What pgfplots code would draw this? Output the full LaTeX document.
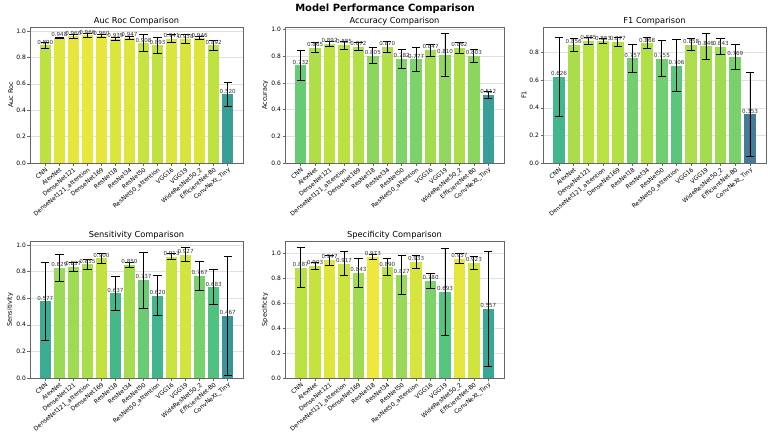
\documentclass[border=0pt]{standalone}
\usepackage{fontspec}
\setmainfont{DejaVu Sans}
\usepackage{pgfplots}
\pgfplotsset{compat=1.18}
\definecolor{V0}{HTML}{440154}
\definecolor{V1}{HTML}{482878}
\definecolor{V2}{HTML}{3E4989}
\definecolor{V3}{HTML}{31688E}
\definecolor{V4}{HTML}{26828E}
\definecolor{V5}{HTML}{1F9E89}
\definecolor{V6}{HTML}{35B779}
\definecolor{V7}{HTML}{6ECE58}
\definecolor{V8}{HTML}{B5DE2B}
\definecolor{V9}{HTML}{FDE725}
\definecolor{V10}{HTML}{FDE725}
\newcounter{bn}
\newcommand{\vbar}[3]{%
  \stepcounter{bn}%
  \pgfmathtruncatemacro\vk{floor(9*#2)}%
  \pgfmathtruncatemacro\vf{round(100*(9*#2-\vk))}%
  \pgfmathtruncatemacro\vkp{\vk+1}%
  \xglobal\colorlet{bc\thebn}{V\vkp!\vf!V\vk}%
  \edef\vtmp{\noexpand\addplot[barsty, fill=bc\thebn!90!white] coordinates {(#1,#2) +- (0,#3)};}%
  \vtmp}
\pgfplotsset{
  barsty/.style={ybar, bar width=0.8, bar shift=0pt, draw=none,
    error bars/.cd, y dir=both, y explicit,
    error bar style={black, line width=0.8pt},
    error mark options={black, rotate=90, mark size=4.2bp, line width=0.8pt},
    /pgfplots/.cd,
    nodes near coords={\pgfmathprintnumber[fixed,fixed zerofill,precision=3,assume math mode=true]{\pgfplotspointmeta}},
    every node near coord/.style={font=\fontsize{5.6}{6}\selectfont, text=black!80, inner sep=0.8pt, anchor=south}},
  panel/.style={scale only axis, anchor=north west,
    xmin=-1.09, xmax=14.09, ymin=0,
    xtick={0,...,13},
    xticklabels={CNN,AlexNet,DenseNet121,DenseNet121\_attention,DenseNet169,ResNet18,ResNet34,ResNet50,ResNet50\_attention,VGG16,VGG19,WideResNet50\_2,EfficientNet-B0,ConvNeXt\_Tiny},
    x tick label style={rotate=40, anchor=north east, font=\fontsize{6}{6}\selectfont, inner sep=1pt},
    y tick label style={font=\fontsize{6}{7}\selectfont, inner sep=1.5pt},
    ytick={0,0.2,0.4,0.6,0.8,1.0},
    yticklabel={\pgfmathprintnumber[fixed,fixed zerofill,precision=1,assume math mode=true]{\tick}},
    ymajorgrids, grid style={black!12, line width=0.4pt},
    axis line style={black!60}, tick style={black!60, line width=0.5pt},
    tick align=outside, tick pos=left, major tick length=2.5bp,
    every axis title shift=0pt,
    title style={font=\fontsize{8.3}{9}\selectfont, at={(0.5,1)}, anchor=south, yshift=0.5bp, inner sep=1pt},
    ylabel style={font=\fontsize{6.5}{7}\selectfont, yshift=-2bp},
    clip=false}
}
\begin{document}
\begin{tikzpicture}
\path[use as bounding box] (0,0) rectangle (770bp,-441bp);
\node[font=\bfseries\fontsize{10}{12}\selectfont] at (385bp,-9bp) {Model Performance Comparison};

\begin{axis}[panel, at={(30bp,-27bp)}, width=213bp, height=136bp, ymax=1.03,
  title={Auc Roc Comparison}, ylabel={Auc Roc}]
\vbar{0}{0.890}{0.022}
\vbar{1}{0.948}{0.006}
\vbar{2}{0.960}{0.015}
\vbar{3}{0.966}{0.012}
\vbar{4}{0.960}{0.012}
\vbar{5}{0.939}{0.012}
\vbar{6}{0.947}{0.010}
\vbar{7}{0.908}{0.065}
\vbar{8}{0.893}{0.060}
\vbar{9}{0.941}{0.030}
\vbar{10}{0.938}{0.035}
\vbar{11}{0.946}{0.010}
\vbar{12}{0.892}{0.040}
\vbar{13}{0.520}{0.093}
\end{axis}

\begin{axis}[panel, at={(285bp,-27bp)}, width=219bp, height=136bp, ymax=1.02,
  title={Accuracy Comparison}, ylabel={Accuracy}]
\vbar{0}{0.732}{0.116}
\vbar{1}{0.865}{0.036}
\vbar{2}{0.892}{0.020}
\vbar{3}{0.885}{0.030}
\vbar{4}{0.872}{0.030}
\vbar{5}{0.805}{0.060}
\vbar{6}{0.870}{0.040}
\vbar{7}{0.782}{0.073}
\vbar{8}{0.777}{0.091}
\vbar{9}{0.847}{0.045}
\vbar{10}{0.810}{0.160}
\vbar{11}{0.862}{0.040}
\vbar{12}{0.803}{0.052}
\vbar{13}{0.512}{0.025}
\end{axis}

\begin{axis}[panel, at={(543bp,-27bp)}, width=223bp, height=136bp, ymax=0.985,
  title={F1 Comparison}, ylabel={F1}]
\vbar{0}{0.626}{0.286}
\vbar{1}{0.856}{0.048}
\vbar{2}{0.885}{0.025}
\vbar{3}{0.883}{0.020}
\vbar{4}{0.877}{0.030}
\vbar{5}{0.757}{0.100}
\vbar{6}{0.868}{0.040}
\vbar{7}{0.755}{0.130}
\vbar{8}{0.706}{0.190}
\vbar{9}{0.858}{0.045}
\vbar{10}{0.846}{0.095}
\vbar{11}{0.843}{0.058}
\vbar{12}{0.769}{0.090}
\vbar{13}{0.353}{0.302}
\end{axis}

\begin{axis}[panel, at={(30bp,-241bp)}, width=213bp, height=137bp, ymax=1.03,
  title={Sensitivity Comparison}, ylabel={Sensitivity}]
\vbar{0}{0.577}{0.294}
\vbar{1}{0.829}{0.100}
\vbar{2}{0.837}{0.035}
\vbar{3}{0.855}{0.035}
\vbar{4}{0.900}{0.040}
\vbar{5}{0.637}{0.130}
\vbar{6}{0.850}{0.020}
\vbar{7}{0.737}{0.210}
\vbar{8}{0.620}{0.150}
\vbar{9}{0.913}{0.024}
\vbar{10}{0.927}{0.052}
\vbar{11}{0.767}{0.107}
\vbar{12}{0.683}{0.130}
\vbar{13}{0.467}{0.450}
\end{axis}

\begin{axis}[panel, at={(285bp,-241bp)}, width=219bp, height=137bp, ymax=1.1,
  title={Specificity Comparison}, ylabel={Specificity}]
\vbar{0}{0.887}{0.160}
\vbar{1}{0.903}{0.028}
\vbar{2}{0.947}{0.040}
\vbar{3}{0.917}{0.097}
\vbar{4}{0.843}{0.115}
\vbar{5}{0.973}{0.017}
\vbar{6}{0.890}{0.070}
\vbar{7}{0.827}{0.155}
\vbar{8}{0.933}{0.055}
\vbar{9}{0.780}{0.058}
\vbar{10}{0.693}{0.350}
\vbar{11}{0.957}{0.040}
\vbar{12}{0.923}{0.050}
\vbar{13}{0.557}{0.460}
\end{axis}
\end{tikzpicture}
\end{document}
